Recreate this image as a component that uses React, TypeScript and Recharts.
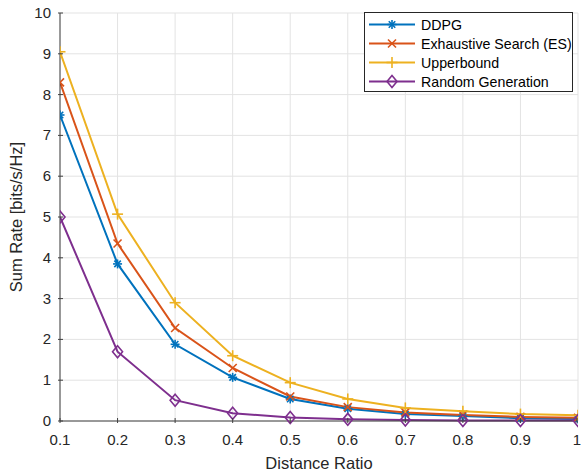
import { LineChart, Line, XAxis, YAxis, CartesianGrid, Legend, Label } from 'recharts';

const distanceRatio = [0.1, 0.2, 0.3, 0.4, 0.5, 0.6, 0.7, 0.8, 0.9, 1.0];
const ddpg = [7.5, 3.85, 1.88, 1.07, 0.54, 0.3, 0.17, 0.12, 0.07, 0.05];
const exhaustive = [8.3, 4.35, 2.28, 1.3, 0.6, 0.34, 0.21, 0.15, 0.1, 0.08];
const upperbound = [9.05, 5.07, 2.9, 1.6, 0.94, 0.54, 0.32, 0.24, 0.17, 0.14];
const randomGen = [5.0, 1.7, 0.51, 0.19, 0.085, 0.04, 0.025, 0.015, 0.01, 0.01];

const xTicks = [0.1, 0.2, 0.3, 0.4, 0.5, 0.6, 0.7, 0.8, 0.9, 1];
const yTicks = [0, 1, 2, 3, 4, 5, 6, 7, 8, 9, 10];

const BLUE = '#0072BD';
const ORANGE = '#D95319';
const YELLOW = '#EDB120';
const PURPLE = '#7E2F8E';
const FONT = '"Liberation Sans", Arial, Helvetica, sans-serif';
const TEXT = '#262626';

const data = distanceRatio.map((d, i) => ({
  d,
  ddpg: ddpg[i],
  es: exhaustive[i],
  ub: upperbound[i],
  rg: randomGen[i],
}));

type Kind = 'star' | 'x' | 'plus' | 'diamond';

function Marker({ kind, cx, cy, color }: { kind: Kind; cx: number; cy: number; color: string }) {
  const w = 1.6;
  if (kind === 'star') {
    const r = 4.5;
    const q = r * 0.72;
    return (
      <g stroke={color} strokeWidth={w}>
        <line x1={cx - r} y1={cy} x2={cx + r} y2={cy} />
        <line x1={cx} y1={cy - r} x2={cx} y2={cy + r} />
        <line x1={cx - q} y1={cy - q} x2={cx + q} y2={cy + q} />
        <line x1={cx - q} y1={cy + q} x2={cx + q} y2={cy - q} />
      </g>
    );
  }
  if (kind === 'x') {
    const r = 4;
    return (
      <g stroke={color} strokeWidth={w}>
        <line x1={cx - r} y1={cy - r} x2={cx + r} y2={cy + r} />
        <line x1={cx - r} y1={cy + r} x2={cx + r} y2={cy - r} />
      </g>
    );
  }
  if (kind === 'plus') {
    const r = 5.5;
    return (
      <g stroke={color} strokeWidth={w}>
        <line x1={cx - r} y1={cy} x2={cx + r} y2={cy} />
        <line x1={cx} y1={cy - r} x2={cx} y2={cy + r} />
      </g>
    );
  }
  return (
    <path
      d={`M${cx},${cy - 6} L${cx + 5},${cy} L${cx},${cy + 6} L${cx - 5},${cy} Z`}
      fill="none"
      stroke={color}
      strokeWidth={w}
    />
  );
}

const dotFor = (kind: Kind, color: string) => (props: any) => (
  <Marker key={`${kind}-${props.index}`} kind={kind} cx={props.cx} cy={props.cy} color={color} />
);

const XTick = (props: any) => {
  const { x, y, payload } = props;
  return (
    <g>
      <line x1={x} y1={y} x2={x} y2={y - 5} stroke="#404040" strokeWidth={1} />
      <text x={x} y={y + 22} textAnchor="middle" fill={TEXT} fontSize={15} fontFamily={FONT}>
        {payload.value}
      </text>
    </g>
  );
};

const YTick = (props: any) => {
  const { x, y, payload } = props;
  return (
    <g>
      <line x1={x} y1={y} x2={x + 5} y2={y} stroke="#404040" strokeWidth={1} />
      <text x={x - 7} y={y + 5} textAnchor="end" fill={TEXT} fontSize={15} fontFamily={FONT}>
        {payload.value}
      </text>
    </g>
  );
};

const legendItems: { name: string; kind: Kind; color: string }[] = [
  { name: 'DDPG', kind: 'star', color: BLUE },
  { name: 'Exhaustive Search (ES)', kind: 'x', color: ORANGE },
  { name: 'Upperbound', kind: 'plus', color: YELLOW },
  { name: 'Random Generation', kind: 'diamond', color: PURPLE },
];

const LegendBox = () => (
  <div
    style={{
      width: 209,
      height: 80,
      border: '1px solid #262626',
      background: '#fff',
      boxSizing: 'border-box',
      paddingTop: 2,
    }}
  >
    {legendItems.map((it) => (
      <div key={it.name} style={{ display: 'flex', alignItems: 'center', height: 19 }}>
        <svg width={54} height={19} style={{ flex: 'none' }}>
          <line x1={4} y1={9.5} x2={50} y2={9.5} stroke={it.color} strokeWidth={2} />
          <Marker kind={it.kind} cx={27} cy={9.5} color={it.color} />
        </svg>
        <span style={{ fontFamily: FONT, fontSize: 14.2, color: '#000', marginLeft: 2, whiteSpace: 'nowrap' }}>
          {it.name}
        </span>
      </div>
    ))}
  </div>
);

export default function App() {
  return (
    <div style={{ position: 'absolute', left: 0, top: 0, background: '#fff' }}>
      <LineChart width={581} height={472} data={data} margin={{ top: 13, right: 3, bottom: 0, left: 0 }}>
        <CartesianGrid stroke="#e3e3e3" strokeWidth={1} />
        <XAxis
          dataKey="d"
          type="number"
          domain={[0.1, 1]}
          ticks={xTicks}
          tick={<XTick />}
          tickLine={false}
          tickSize={0}
          height={51}
          axisLine={{ stroke: '#404040', strokeWidth: 1 }}
          allowDataOverflow
        >
          <Label
            value="Distance Ratio"
            position="insideBottom"
            offset={3}
            style={{ fontFamily: FONT, fontSize: 16.5, fill: TEXT }}
          />
        </XAxis>
        <YAxis
          type="number"
          domain={[0, 10]}
          ticks={yTicks}
          tick={<YTick />}
          tickLine={false}
          tickSize={0}
          width={60}
          axisLine={{ stroke: '#404040', strokeWidth: 1 }}
        >
          <Label
            value="Sum Rate [bits/s/Hz]"
            angle={-90}
            position="insideLeft"
            offset={16}
            style={{ textAnchor: 'middle', fontFamily: FONT, fontSize: 16.5, fill: TEXT }}
          />
        </YAxis>
        <Legend
          content={<LegendBox />}
          layout="vertical"
          verticalAlign="middle"
          align="center"
          wrapperStyle={{ top: 12, left: 364, width: 209 }}
        />
        <Line dataKey="ddpg" stroke={BLUE} strokeWidth={2} dot={dotFor('star', BLUE)} isAnimationActive={false} />
        <Line dataKey="es" stroke={ORANGE} strokeWidth={2} dot={dotFor('x', ORANGE)} isAnimationActive={false} />
        <Line dataKey="ub" stroke={YELLOW} strokeWidth={2} dot={dotFor('plus', YELLOW)} isAnimationActive={false} />
        <Line dataKey="rg" stroke={PURPLE} strokeWidth={2} dot={dotFor('diamond', PURPLE)} isAnimationActive={false} />
      </LineChart>
    </div>
  );
}
